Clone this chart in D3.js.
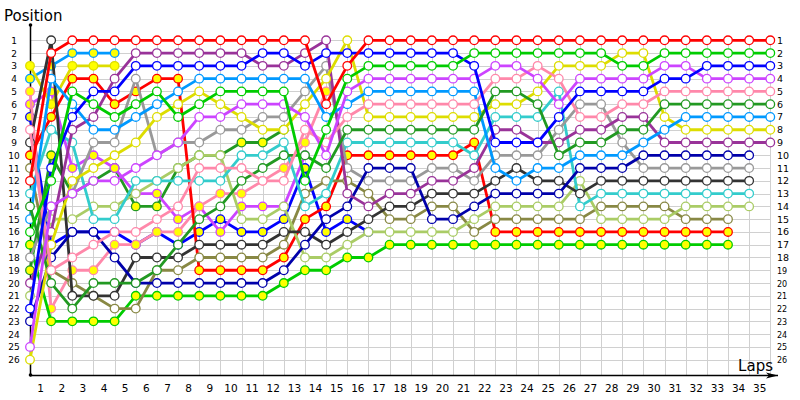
<!DOCTYPE html>
<html>
<head>
<meta charset="utf-8">
<script src="https://cdn.jsdelivr.net/npm/d3@7"></script>
<style>
  body { margin: 0; background: #fff; }
  svg { display: block; font-family: 'DejaVu Sans', sans-serif; }
</style>
</head>
<body>
<svg id="chart" width="800" height="400"></svg>
<script>
// lap columns (0 = grid) and position labels
const laps = d3.range(0, 36)
const lapLabels = d3.range(1, 36)
const positions = d3.range(1, 27)

// positions per column, null = not running
const redW = [12,2,1,1,1,1,1,1,1,1,1,1,1,1,6,3,1,1,1,1,1,1,1,1,1,1,1,1,1,1,1,1,1,1,1,1]
const greenW = [16,12,5,6,7,6,5,7,6,5,5,5,5,12,8,4,3,3,3,3,3,2,2,2,2,2,2,2,3,3,2,2,2,2,2,2]
const blueW = [22,11,7,5,5,3,3,3,3,3,3,2,2,3,2,2,2,2,2,2,2,3,9,9,9,7,5,5,5,5,4,4,3,3,3,3]
const violetW = [25,14,13,12,12,11,10,9,7,7,6,6,6,7,10,5,4,4,4,4,4,4,3,3,4,6,4,4,4,4,3,3,4,4,4,4]
const pinkW = [8,19,18,17,16,16,15,14,11,11,11,12,12,8,9,7,6,6,6,6,6,6,4,4,3,4,7,7,6,6,5,5,5,5,5,5]
const darkGreenW = [14,20,22,20,20,20,19,17,15,14,12,11,10,10,11,8,8,8,8,8,8,8,5,5,6,10,9,9,8,8,6,6,6,6,6,6]
const skyW = [15,4,6,8,8,7,6,5,4,4,4,4,4,4,7,6,5,5,5,5,5,5,11,12,11,11,10,10,10,9,8,7,7,7,7,7]
const yellowW = [26,17,12,11,10,9,7,6,5,6,7,8,8,6,4,1,7,7,7,7,7,7,6,6,5,3,3,3,2,2,7,8,8,8,8,8]
const purpleW = [20,16,8,7,4,2,2,2,2,2,2,3,3,2,1,13,14,13,13,12,12,11,8,8,9,9,8,8,7,7,9,9,9,9,9,9]
const navyW = [23,18,16,16,18,20,20,20,20,20,20,20,19,17,15,14,11,11,11,15,15,14,13,13,13,13,11,11,11,10,10,10,10,10,10,null]
const grayW = [18,14,13,9,9,4,10,9,9,8,8,7,7,5,3,11,12,12,12,11,11,12,10,10,10,8,6,6,9,11,11,11,11,11,11,null]
const blackW = [9,1,21,21,21,18,18,18,17,17,17,17,16,16,17,16,15,14,14,13,13,13,12,11,12,12,13,12,12,12,12,12,12,12,12,null]
const cyanW = [13,8,9,15,15,12,12,12,12,12,10,10,9,14,13,9,9,9,9,9,9,10,7,7,7,5,14,13,13,13,13,13,13,13,13,null]
const lightGreenW = [21,15,15,14,14,13,12,11,10,10,15,15,14,18,18,17,16,16,16,16,16,15,14,14,14,14,12,15,15,15,15,14,14,14,14,null]
const oliveW = [11,19,20,21,22,22,19,19,18,18,18,18,17,13,12,12,13,15,15,14,14,16,15,15,15,15,15,14,14,14,14,15,15,15,null,null]
const redY = [10,7,4,4,6,5,4,4,19,19,19,19,18,15,14,10,10,10,10,10,10,9,16,16,16,16,16,16,16,16,16,16,16,16,null,null]
const greenY = [17,23,23,23,23,21,21,21,21,21,21,21,20,19,19,18,18,17,17,17,17,17,17,17,17,17,17,17,17,17,17,17,17,17,null,null]
const yellowY = [3,6,3,3,3]
const skyY = [4,3,2,2,2]
const pinkY = [5,22,19,19,17,17,16,16,14,13,13,12,11,9,5]
const violetY = [6,5,11,10,11,13,13,15,14,16,14,14,14,10]
const darkGreenY = [19,10,13,12,11,14,14,11,10,10,9,9,8]
const blueY = [7,17,16,16,16,17,16,17,16,15,16,16,15,11,16,15,16]

const colors = {
  red: '#ff0000', green: '#00cc00', blue: '#0000ff', violet: '#cc44ff',
  pink: '#ff88aa', darkGreen: '#229922', sky: '#0099ff', yellow: '#dddd00',
  purple: '#993399', navy: '#0000aa', gray: '#999999', black: '#333333',
  cyan: '#33cccc', lightGreen: '#aacc66', olive: '#888844'
}

// drawn bottom to top
const drivers = [
  { pos: blueY, color: colors.blue, fill: '#ffff00' },
  { pos: darkGreenY, color: colors.darkGreen, fill: '#ffff00' },
  { pos: violetY, color: colors.violet, fill: '#ffff00' },
  { pos: pinkY, color: colors.pink, fill: '#ffff00' },
  { pos: skyY, color: colors.sky, fill: '#ffff00' },
  { pos: yellowY, color: colors.yellow, fill: '#ffff00' },
  { pos: greenY, color: colors.green, fill: '#ffff00' },
  { pos: redY, color: colors.red, fill: '#ffff00' },
  { pos: oliveW, color: colors.olive, fill: '#fff' },
  { pos: lightGreenW, color: colors.lightGreen, fill: '#fff' },
  { pos: cyanW, color: colors.cyan, fill: '#fff' },
  { pos: blackW, color: colors.black, fill: '#fff' },
  { pos: grayW, color: colors.gray, fill: '#fff' },
  { pos: navyW, color: colors.navy, fill: '#fff' },
  { pos: purpleW, color: colors.purple, fill: '#fff' },
  { pos: yellowW, color: colors.yellow, fill: '#fff' },
  { pos: skyW, color: colors.sky, fill: '#fff' },
  { pos: darkGreenW, color: colors.darkGreen, fill: '#fff' },
  { pos: pinkW, color: colors.pink, fill: '#fff' },
  { pos: violetW, color: colors.violet, fill: '#fff' },
  { pos: blueW, color: colors.blue, fill: '#fff' },
  { pos: greenW, color: colors.green, fill: '#fff' },
  { pos: redW, color: colors.red, fill: '#fff' }
]

const svg = d3.select('#chart')
const x = d3.scaleLinear().domain([0, 35]).range([30, 770.3])
const y = d3.scaleLinear().domain([1, 26]).range([40.3, 359.7])
const axisY = 375

// grid
const grid = svg.append('g').attr('stroke', '#d0d0d0').attr('stroke-width', 1)
grid.selectAll('line.h').data(positions).join('line')
  .attr('x1', x(0)).attr('x2', x(35))
  .attr('y1', d => Math.round(y(d)) + 0.5).attr('y2', d => Math.round(y(d)) + 0.5)
grid.selectAll('line.v').data(laps.slice(1)).join('line')
  .attr('x1', d => Math.round(x(d)) + 0.5).attr('x2', d => Math.round(x(d)) + 0.5)
  .attr('y1', y(1)).attr('y2', axisY)

// axes
svg.append('line').attr('x1', 30.5).attr('x2', 30.5).attr('y1', axisY).attr('y2', 25)
  .attr('stroke', '#000').attr('stroke-width', 1.5)
svg.append('circle').attr('cx', 30.5).attr('cy', 25).attr('r', 1.8).attr('fill', '#000')
svg.append('circle').attr('cx', 30.5).attr('cy', axisY).attr('r', 1.8).attr('fill', '#000')
svg.append('line').attr('x1', 30).attr('x2', 778).attr('y1', axisY + 0.5).attr('y2', axisY + 0.5)
  .attr('stroke', '#000').attr('stroke-width', 1.5)
svg.append('path').attr('d', `M778,${axisY + 0.5} L766,${axisY - 2.5} L769,${axisY + 0.5} L766,${axisY + 3.5} Z`)
  .attr('fill', '#000')

// tick labels
svg.append('g').selectAll('text').data(positions).join('text')
  .attr('x', 14).attr('y', d => y(d) + 3.5)
  .attr('text-anchor', 'middle').attr('font-size', 9).attr('fill', '#000')
  .text(d => d)
svg.append('g').selectAll('text').data(positions).join('text')
  .attr('x', 777).attr('y', d => y(d) + 3.5)
  .attr('font-size', d => d > 18 ? 8 : 9.5).attr('fill', '#000')
  .text(d => d)
svg.append('g').selectAll('text').data(lapLabels).join('text')
  .attr('x', d => x(d - 0.5)).attr('y', 392)
  .attr('text-anchor', 'middle').attr('font-size', 10.5).attr('fill', '#000')
  .text(d => d)

svg.append('text').attr('x', 4).attr('y', 21).attr('font-size', 15).text('Position')
svg.append('text').attr('x', 773).attr('y', 371).attr('text-anchor', 'end')
  .attr('font-size', 15).text('Laps')

// driver lines and markers
const line = d3.line()
  .defined(d => d != null)
  .x((d, i) => x(i))
  .y(d => y(d))

const g = svg.append('g')
drivers.forEach(dr => {
  const dg = g.append('g')
  dg.append('path').attr('d', line(dr.pos))
    .attr('fill', 'none').attr('stroke', dr.color).attr('stroke-width', 2.8)
    .attr('stroke-linejoin', 'round')
  dg.selectAll('circle')
    .data(dr.pos.map((p, i) => ({ p, i })).filter(d => d.p != null))
    .join('circle')
    .attr('cx', d => x(d.i)).attr('cy', d => y(d.p)).attr('r', 4.3)
    .attr('fill', dr.fill).attr('stroke', dr.color).attr('stroke-width', 1.3)
})
</script>
</body>
</html>
